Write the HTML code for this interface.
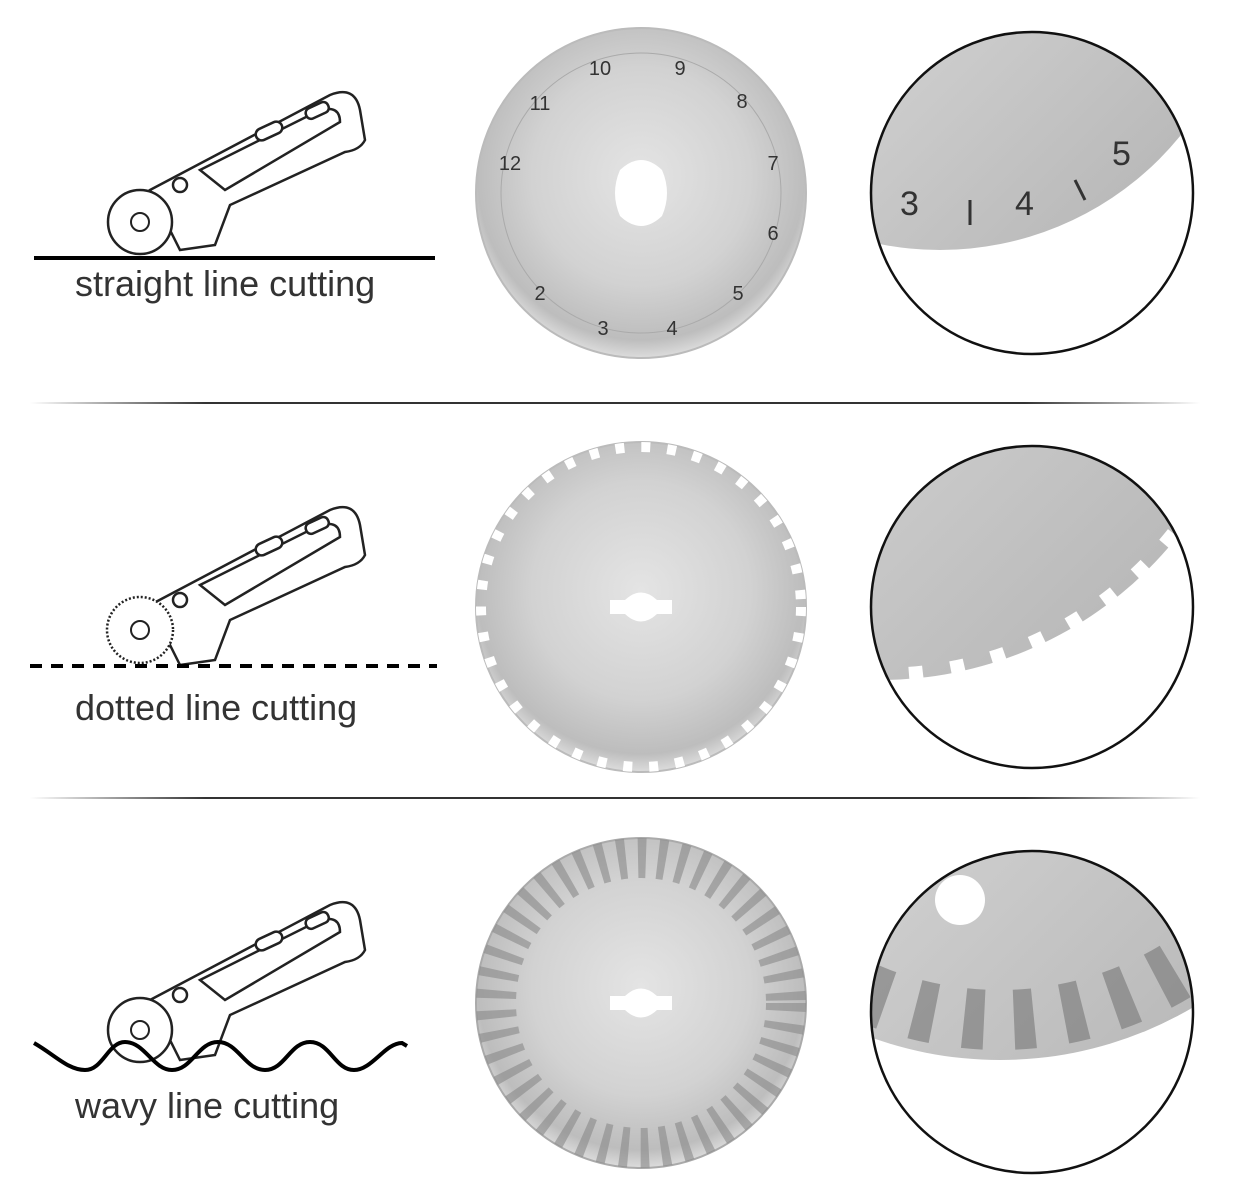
<!DOCTYPE html>
<html><head><meta charset="utf-8"><style>
html,body{margin:0;padding:0;background:#fff;}
svg{display:block;}
text{font-family:"Liberation Sans",sans-serif;fill:#333;}
</style></head><body>
<svg width="1248" height="1204" viewBox="0 0 1248 1204" xmlns="http://www.w3.org/2000/svg">
<defs>
<radialGradient id="bl" cx="50%" cy="45%" r="55%">
<stop offset="0" stop-color="#e4e4e4"/><stop offset="0.6" stop-color="#d2d2d2"/><stop offset="0.9" stop-color="#bdbdbd"/><stop offset="1" stop-color="#dcdcdc"/>
</radialGradient>
<linearGradient id="zg" x1="0" y1="0" x2="1" y2="1">
<stop offset="0" stop-color="#a4a4a4"/><stop offset="0.5" stop-color="#d2d2d2"/><stop offset="1" stop-color="#b0b0b0"/>
</linearGradient>
<linearGradient id="sep" x1="0" x2="1">
<stop offset="0" stop-color="#fff"/><stop offset="0.15" stop-color="#333"/><stop offset="0.85" stop-color="#333"/><stop offset="1" stop-color="#fff"/>
</linearGradient>
<clipPath id="c1"><circle cx="1032" cy="193" r="161"/></clipPath>
<clipPath id="c2"><circle cx="1032" cy="607" r="161"/></clipPath>
<clipPath id="c3"><circle cx="1032" cy="1012" r="161"/></clipPath>
<g id="cutter" fill="#fff" stroke="#222" stroke-width="2.5">
<path d="M150 190 L330 95 Q355 85 360 110 L365 140 Q360 150 345 152 L230 205 L215 245 L180 250 Z"/>
<path d="M200 170 L320 110 Q340 105 340 122 L225 190 Z"/>
<rect x="255" y="125" width="28" height="12" rx="6" transform="rotate(-25 269 131)"/>
<rect x="305" y="105" width="24" height="11" rx="5" transform="rotate(-25 317 110)"/>
<circle cx="180" cy="185" r="7"/>
</g>
</defs>
<!-- row 1 -->
<use href="#cutter"/>
<circle cx="140" cy="222" r="32" fill="#fff" stroke="#222" stroke-width="2.5"/>
<circle cx="140" cy="222" r="9" fill="#fff" stroke="#222" stroke-width="2"/>
<line x1="34" y1="258" x2="435" y2="258" stroke="#000" stroke-width="4"/>
<text x="75" y="296" font-size="36">straight line cutting</text>
<circle cx="641" cy="193" r="165" fill="url(#bl)" stroke="#bbb" stroke-width="2"/>
<circle cx="641" cy="193" r="140" fill="none" stroke="#aaa" stroke-width="1"/>
<path d="M620 170 Q641 150 662 170 Q672 193 662 216 Q641 236 620 216 Q610 193 620 170Z" fill="#fff"/>
<g font-size="20" fill="#444" text-anchor="middle">
<text x="603" y="335">3</text><text x="672" y="335">4</text><text x="738" y="300">5</text><text x="540" y="300">2</text><text x="773" y="240">6</text><text x="773" y="170">7</text><text x="742" y="108">8</text><text x="680" y="75">9</text><text x="600" y="75">10</text><text x="540" y="110">11</text><text x="510" y="170">12</text>
</g>
<g clip-path="url(#c1)">
<circle cx="940" cy="-60" r="310" fill="url(#zg)"/>
<g font-size="34" fill="#333"><text x="900" y="215">3</text><text x="1015" y="215">4</text><text x="1112" y="165">5</text></g>
<line x1="970" y1="200" x2="970" y2="225" stroke="#333" stroke-width="3"/>
<line x1="1075" y1="180" x2="1085" y2="200" stroke="#333" stroke-width="3"/>
</g>
<circle cx="1032" cy="193" r="161" fill="none" stroke="#111" stroke-width="2.5"/>
<rect x="30" y="402" width="1170" height="2" fill="url(#sep)"/>
<!-- row 2 -->
<use href="#cutter" transform="translate(0,415)"/>
<circle cx="140" cy="630" r="33" fill="#fff" stroke="#222" stroke-width="2.5" stroke-dasharray="2 2"/>
<circle cx="140" cy="630" r="9" fill="#fff" stroke="#222" stroke-width="2"/>
<line x1="30" y1="666" x2="437" y2="666" stroke="#000" stroke-width="4" stroke-dasharray="12 9"/>
<text x="75" y="720" font-size="36">dotted line cutting</text>
<circle cx="641" cy="607" r="165" fill="url(#bl)" stroke="#bbb" stroke-width="2"/>
<circle cx="641" cy="607" r="160" fill="none" stroke="#fff" stroke-width="10" stroke-dasharray="9 17"/>
<path d="M610 600 L625 600 Q641 585 657 600 L672 600 L672 614 L657 614 Q641 629 625 614 L610 614Z" fill="#fff"/>
<g clip-path="url(#c2)">
<circle cx="880" cy="300" r="380" fill="url(#zg)"/>
<circle cx="880" cy="300" r="375" fill="none" stroke="#fff" stroke-width="14" stroke-dasharray="14 28"/>
</g>
<circle cx="1032" cy="607" r="161" fill="none" stroke="#111" stroke-width="2.5"/>
<rect x="30" y="797" width="1170" height="2" fill="url(#sep)"/>
<!-- row 3 -->
<use href="#cutter" transform="translate(0,810)"/>
<circle cx="140" cy="1030" r="32" fill="#fff" stroke="#222" stroke-width="2.5"/>
<circle cx="140" cy="1030" r="9" fill="#fff" stroke="#222" stroke-width="2"/>
<path d="M34 1043 C55 1055 68 1070 85 1070 C103 1070 108 1042 125 1042 C145 1042 153 1070 172 1070 C192 1070 198 1042 218 1042 C238 1042 245 1070 265 1070 C285 1070 290 1042 310 1042 C330 1042 335 1070 354 1070 C372 1070 385 1043 402 1043 L407 1046" fill="none" stroke="#000" stroke-width="4"/>
<text x="75" y="1118" font-size="36">wavy line cutting</text>
<circle cx="641" cy="1003" r="165" fill="url(#bl)" stroke="#aaa" stroke-width="2"/>
<circle cx="641" cy="1003" r="145" fill="none" stroke="#888" stroke-width="40" stroke-dasharray="8 12" opacity="0.6"/>
<path d="M610 996 L625 996 Q641 981 657 996 L672 996 L672 1010 L657 1010 Q641 1025 625 1010 L610 1010Z" fill="#fff"/>
<g clip-path="url(#c3)">
<circle cx="1000" cy="680" r="380" fill="url(#zg)"/>
<circle cx="1000" cy="680" r="340" fill="none" stroke="#777" stroke-width="60" stroke-dasharray="20 30" opacity="0.6"/>
<circle cx="960" cy="900" r="25" fill="#fff"/>
</g>
<circle cx="1032" cy="1012" r="161" fill="none" stroke="#111" stroke-width="2.5"/>
</svg>
</body></html>
